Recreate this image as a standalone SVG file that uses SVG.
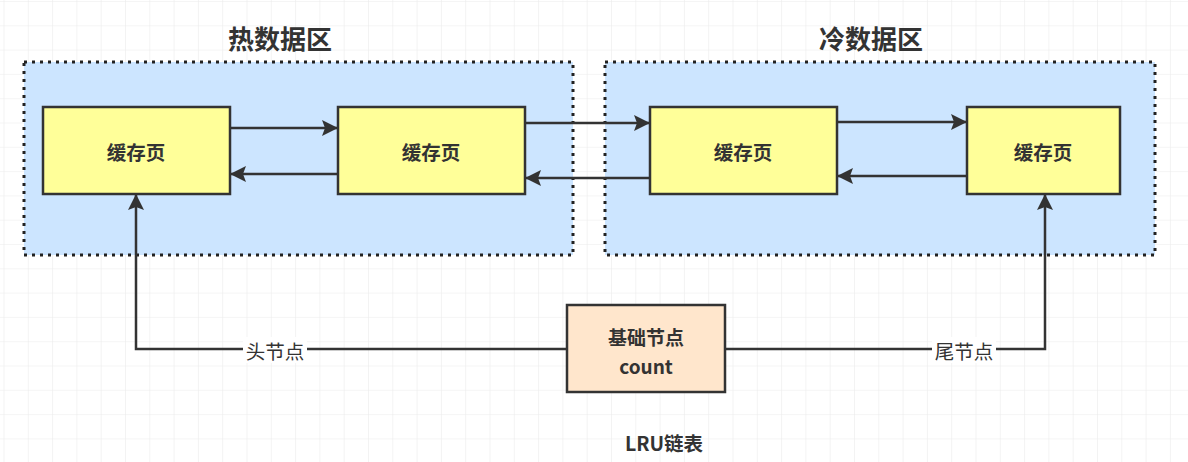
<svg xmlns="http://www.w3.org/2000/svg" width="1188" height="462" viewBox="0 0 1188 462">
<defs>
<pattern id="grid" x="3.5" y="1" width="24.3" height="24.3" patternUnits="userSpaceOnUse">
<path d="M0,0 V24.3 M0,0 H24.3" fill="none" stroke="#ebebeb" stroke-width="1.2"/>
</pattern>
<marker id="arr" markerUnits="userSpaceOnUse" markerWidth="17" markerHeight="16" refX="16" refY="8" orient="auto">
<path d="M0,0 L16,8 L0,16 L3,8 z" fill="#333"/>
</marker>
<style>
.region{fill:#cce5ff;stroke:#222;stroke-width:3;stroke-dasharray:3 5;}
.page{fill:#ffff99;stroke:#333;stroke-width:2.5;}
.base{fill:#ffe6cc;stroke:#333;stroke-width:2.5;}
.title{font-family:"Noto Sans CJK SC","Liberation Sans",sans-serif;font-size:26px;font-weight:bold;fill:#333;text-anchor:middle;}
.t{font-family:"Noto Sans CJK SC","Liberation Sans",sans-serif;font-size:19.5px;font-weight:bold;fill:#333;text-anchor:middle;dominant-baseline:central;}
.lbl{font-family:"Noto Sans CJK SC","Liberation Sans",sans-serif;font-size:19.5px;fill:#333;text-anchor:middle;dominant-baseline:central;}
.c{fill:none;stroke:#333;stroke-width:2.5;marker-end:url(#arr);}
</style>
</defs>
<rect width="1188" height="462" fill="#ffffff"/>
<rect width="1188" height="462" fill="url(#grid)"/>

<g id="hot-zone">
<rect class="region" x="24" y="62" width="549" height="193"/>
<text class="title" x="280" y="49">热数据区</text>
</g>
<g id="cold-zone">
<rect class="region" x="605" y="62" width="550" height="193"/>
<text class="title" x="871" y="49">冷数据区</text>
</g>

<g id="connectors">
<path class="c" d="M230,128 H338"/>
<path class="c" d="M338,174 H230"/>
<path class="c" d="M525,123 H650"/>
<path class="c" d="M650,178 H525"/>
<path class="c" d="M837,122 H967"/>
<path class="c" d="M967,176 H837"/>
<path class="c" d="M567,349 H136 V194"/>
<path class="c" d="M725,349 H1045 V194"/>
<rect x="243" y="337" width="64" height="26" fill="#ffffff"/>
<text class="lbl" x="275" y="350">头节点</text>
<rect x="932" y="337" width="64" height="26" fill="#ffffff"/>
<text class="lbl" x="964" y="350">尾节点</text>
</g>

<g id="page1">
<rect class="page" x="43" y="107" width="187" height="87"/>
<text class="t" x="136" y="151">缓存页</text>
</g>
<g id="page2">
<rect class="page" x="338" y="107" width="187" height="87"/>
<text class="t" x="431" y="151">缓存页</text>
</g>
<g id="page3">
<rect class="page" x="650" y="107" width="187" height="87"/>
<text class="t" x="743" y="151">缓存页</text>
</g>
<g id="page4">
<rect class="page" x="967" y="107" width="153" height="87"/>
<text class="t" x="1043" y="151">缓存页</text>
</g>

<g id="base-node">
<rect class="base" x="567" y="305" width="158" height="87"/>
<text class="t" x="646" y="336" style="font-size:19px">基础节点</text>
<text class="t" x="646" y="365" style="font-size:19px">count</text>
</g>

<g id="caption">
<text class="t" x="664" y="442">LRU链表</text>
</g>
</svg>
